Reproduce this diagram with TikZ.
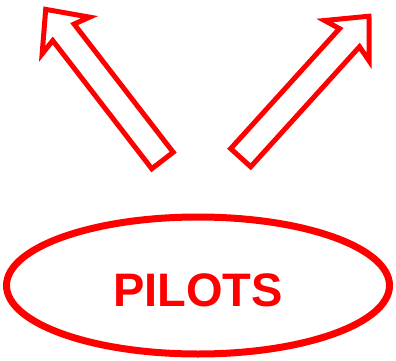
\documentclass[tikz,border=0pt]{standalone}
\usepackage{fontspec}
\setmainfont{Liberation Sans}
\usetikzlibrary{shapes.geometric}

\begin{document}
\begin{tikzpicture}[x=1pt, y=1pt,
    freccia/.style={draw=red, line width=5pt, line join=miter},
    ovale/.style={ellipse, draw=red, line width=7pt, text=red, inner sep=0pt,
      font=\bfseries\fontsize{47}{47}\selectfont}]

  \useasboundingbox (0,0) rectangle (396,-361);
  \def\L{191}

  \foreach \bx/\by/\ang in {162.5/-160.5/127.7, 240.7/-157.7/47.8}
    { \draw[freccia, shift={(\bx,\by)}, rotate=\ang]
        (0,-13.5) -- (\L-29,-13.5) -- (\L-33,-30) -- (\L,0)
        -- (\L-33,30) -- (\L-29,13.5) -- (0,13.5) -- cycle; }

  \node[ovale, minimum width=383pt, minimum height=137pt,
    text height=41.7pt, text depth=0pt] (piloti) at (198,-285.5) {PILOTS};
\end{tikzpicture}
\end{document}
